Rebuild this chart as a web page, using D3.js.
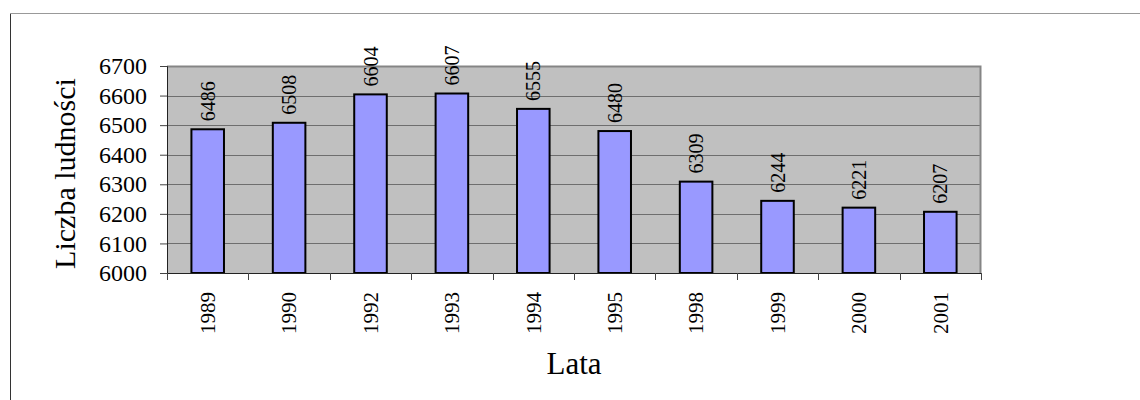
<!DOCTYPE html>
<html>
<head>
<meta charset="utf-8">
<script src="https://cdn.jsdelivr.net/npm/d3@7"></script>
<style>
  html, body { margin: 0; padding: 0; background: #fff; }
  svg { display: block; }
</style>
</head>
<body>
<svg id="chart" width="1140" height="400"></svg>
<script>
const years = ["1989", "1990", "1992", "1993", "1994", "1995", "1998", "1999", "2000", "2001"];
const population = [6486, 6508, 6604, 6607, 6555, 6480, 6309, 6244, 6221, 6207];
const yTicks = [6000, 6100, 6200, 6300, 6400, 6500, 6600, 6700];
const yTitle = "Liczba ludności";
const xTitle = "Lata";

const SERIF = "'Liberation Serif', 'Times New Roman', serif";
const svg = d3.select("#chart");
const W = 1140, H = 400;

// outer frame
svg.append("line").attr("x1", 10.5).attr("x2", 10.5).attr("y1", 13).attr("y2", H)
  .attr("stroke", "#333").attr("stroke-width", 1);
svg.append("line").attr("x1", 10).attr("x2", W).attr("y1", 13.5).attr("y2", 13.5)
  .attr("stroke", "#999").attr("stroke-width", 1);

const plot = { left: 167, right: 981, top: 66, bottom: 273 };

const x = d3.scaleBand().domain(years).range([plot.left, plot.right]).paddingInner(0).paddingOuter(0);
const y = d3.scaleLinear().domain([6000, 6700]).range([plot.bottom, plot.top]);

// plot background
svg.append("rect")
  .attr("x", plot.left).attr("y", plot.top)
  .attr("width", plot.right - plot.left).attr("height", plot.bottom - plot.top)
  .attr("fill", "#c0c0c0");

// gridlines
svg.append("g").selectAll("line").data(yTicks.filter(t => t > 6000 && t < 6700)).join("line")
  .attr("x1", plot.left).attr("x2", plot.right)
  .attr("y1", d => Math.round(y(d)) + 0.5).attr("y2", d => Math.round(y(d)) + 0.5)
  .attr("stroke", "#6e6e6e").attr("stroke-width", 1);

// plot border top/right
svg.append("path")
  .attr("d", `M${plot.left},${plot.top + 0.5} H${plot.right - 0.5} V${plot.bottom}`)
  .attr("fill", "none").attr("stroke", "#858585").attr("stroke-width", 2);

// bars
const bw = x.bandwidth() / 2.5;
svg.append("g").selectAll("rect").data(years).join("rect")
  .attr("x", d => x(d) + (x.bandwidth() - bw) / 2)
  .attr("y", (d, i) => y(population[i]))
  .attr("width", bw)
  .attr("height", (d, i) => plot.bottom - y(population[i]))
  .attr("fill", "#9999ff")
  .attr("stroke", "#000").attr("stroke-width", 2);

// y axis
const yAxis = d3.axisLeft(y).tickValues(yTicks).tickSize(7).tickPadding(13).tickFormat(d3.format("d"));
const gy = svg.append("g").attr("transform", `translate(${plot.left},0)`).call(yAxis)
  .attr("font-family", null).attr("font-size", null);
gy.select(".domain").attr("stroke", "#222").attr("stroke-width", 1);
gy.selectAll(".tick line").attr("stroke", "#444");
gy.selectAll(".tick text")
  .style("font-family", SERIF).style("font-size", "24px").attr("fill", "#000");

// x axis: ticks at category boundaries
const gx = svg.append("g").attr("transform", `translate(0,${plot.bottom})`);
gx.append("line").attr("x1", plot.left).attr("x2", plot.right).attr("y1", 0.5).attr("y2", 0.5)
  .attr("stroke", "#222").attr("stroke-width", 1);
const bounds = years.map(d => x(d)).concat([plot.right]);
gx.selectAll("line.tk").data(bounds).join("line").attr("class", "tk")
  .attr("x1", d => Math.round(d) + 0.5).attr("x2", d => Math.round(d) + 0.5)
  .attr("y1", 0).attr("y2", 7).attr("stroke", "#444");

// x labels, rotated
svg.append("g").selectAll("text").data(years).join("text")
  .attr("transform", d => `translate(${x(d) + x.bandwidth() / 2},292) rotate(-90)`)
  .attr("text-anchor", "end").attr("dy", "0.35em")
  .style("font-family", SERIF).style("font-size", "21px").attr("fill", "#000")
  .text(d => d);

// value labels
svg.append("g").selectAll("text").data(years).join("text")
  .attr("transform", (d, i) => `translate(${x(d) + x.bandwidth() / 2},${y(population[i]) - 8}) rotate(-90)`)
  .attr("text-anchor", "start").attr("dy", "0.35em")
  .style("font-family", SERIF).style("font-size", "20px").attr("fill", "#000")
  .text((d, i) => population[i]);

// axis titles
svg.append("text")
  .attr("transform", `translate(75,${(plot.top + plot.bottom) / 2 + 4}) rotate(-90)`)
  .attr("text-anchor", "middle")
  .style("font-family", SERIF).style("font-size", "30px").attr("fill", "#000")
  .text(yTitle);

svg.append("text")
  .attr("x", 574).attr("y", 374)
  .attr("text-anchor", "middle")
  .style("font-family", SERIF).style("font-size", "31px").attr("fill", "#000")
  .text(xTitle);
</script>
</body>
</html>
